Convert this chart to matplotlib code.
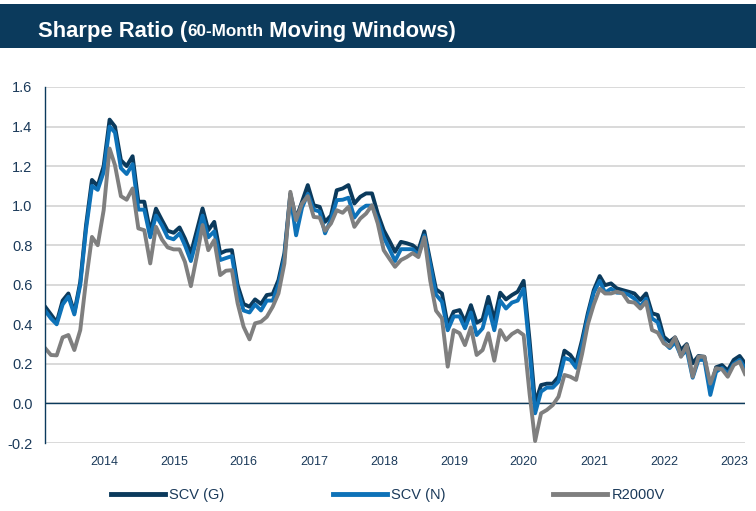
import numpy as np
import pandas as pd
import matplotlib
matplotlib.use("Agg")
import matplotlib.pyplot as plt
import matplotlib.dates as mdates
from matplotlib.patches import Rectangle

# monthly 60-month rolling Sharpe ratios, Feb 2013 .. Feb 2023
dates = pd.date_range("2013-02-28", periods=121, freq="ME")

scv_g = [0.49, 0.45, 0.41, 0.52, 0.556, 0.46, 0.615, 0.90, 1.13, 1.10,
         1.20, 1.435, 1.40, 1.23, 1.20, 1.25, 1.02, 1.02, 0.868, 0.985,
         0.927, 0.873, 0.863, 0.89, 0.834, 0.759, 0.87, 0.986, 0.876, 0.918,
         0.759, 0.772, 0.775, 0.598, 0.503, 0.489, 0.526, 0.503, 0.548, 0.553,
         0.624, 0.759, 1.06, 0.935, 1.02, 1.104, 1.002, 0.994, 0.918, 0.95,
         1.078, 1.087, 1.104, 1.011, 1.045, 1.062, 1.062, 0.96, 0.876, 0.82,
         0.767, 0.817, 0.81, 0.80, 0.775, 0.87, 0.72, 0.577, 0.556, 0.396,
         0.464, 0.472, 0.413, 0.497, 0.408, 0.425, 0.539, 0.422, 0.56, 0.526,
         0.548, 0.565, 0.62, 0.32, 0.0, 0.093, 0.10, 0.10, 0.135, 0.267,
         0.245, 0.203, 0.321, 0.456, 0.573, 0.644, 0.598, 0.607, 0.582, 0.573,
         0.565, 0.556, 0.523, 0.556, 0.456, 0.447, 0.337, 0.312, 0.334, 0.27,
         0.30, 0.203, 0.24, 0.236, 0.068, 0.183, 0.194, 0.166, 0.22, 0.24,
         0.203]

scv_n = [0.47, 0.43, 0.40, 0.50, 0.54, 0.45, 0.60, 0.88, 1.10, 1.08,
         1.17, 1.40, 1.37, 1.19, 1.16, 1.21, 0.98, 0.98, 0.84, 0.95,
         0.90, 0.84, 0.83, 0.86, 0.80, 0.72, 0.83, 0.95, 0.84, 0.87,
         0.725, 0.735, 0.745, 0.57, 0.47, 0.46, 0.50, 0.47, 0.52, 0.52,
         0.60, 0.74, 1.05, 0.85, 0.99, 1.06, 0.98, 0.97, 0.86, 0.93,
         1.028, 1.03, 1.04, 0.94, 0.98, 1.00, 1.00, 0.93, 0.84, 0.78,
         0.72, 0.78, 0.78, 0.78, 0.75, 0.85, 0.70, 0.55, 0.514, 0.37,
         0.44, 0.44, 0.38, 0.46, 0.346, 0.38, 0.49, 0.37, 0.52, 0.48,
         0.51, 0.52, 0.58, 0.27, -0.05, 0.06, 0.08, 0.08, 0.11, 0.23,
         0.22, 0.18, 0.30, 0.44, 0.56, 0.62, 0.56, 0.58, 0.56, 0.56,
         0.55, 0.53, 0.49, 0.53, 0.43, 0.41, 0.31, 0.28, 0.31, 0.24,
         0.27, 0.13, 0.22, 0.22, 0.043, 0.16, 0.18, 0.15, 0.20, 0.22,
         0.18]

r2000v = [0.28, 0.245, 0.243, 0.334, 0.346, 0.27, 0.371, 0.62, 0.842, 0.80,
          0.977, 1.289, 1.205, 1.048, 1.03, 1.087, 0.885, 0.876, 0.708, 0.893,
          0.829, 0.789, 0.779, 0.779, 0.716, 0.593, 0.74, 0.902, 0.775, 0.826,
          0.649, 0.671, 0.674, 0.506, 0.388, 0.324, 0.405, 0.413, 0.438, 0.489,
          0.556, 0.708, 1.07, 0.927, 1.011, 1.048, 0.943, 0.94, 0.873, 0.91,
          0.977, 0.964, 0.994, 0.893, 0.935, 0.96, 1.002, 0.91, 0.775, 0.73,
          0.691, 0.725, 0.74, 0.76, 0.74, 0.84, 0.62, 0.469, 0.43, 0.186,
          0.371, 0.355, 0.295, 0.385, 0.245, 0.27, 0.355, 0.216, 0.371, 0.321,
          0.351, 0.368, 0.346, 0.05, -0.19, -0.05, -0.033, -0.008, 0.034, 0.144,
          0.135, 0.119, 0.25, 0.40, 0.50, 0.58, 0.556, 0.556, 0.565, 0.556,
          0.514, 0.51, 0.48, 0.514, 0.371, 0.358, 0.304, 0.287, 0.334, 0.236,
          0.295, 0.135, 0.236, 0.236, 0.10, 0.178, 0.173, 0.135, 0.194, 0.211,
          0.149]

series_names = ["SCV (G)", "SCV (N)", "R2000V"]
navy = "#0B3A5C"
colors = [navy, "#0E72B8", "#7F7F7F"]
text_col = "#1B3A5A"

plt.rcParams["font.family"] = ["Liberation Sans", "DejaVu Sans"]

fig = plt.figure(figsize=(7.56, 5.11), dpi=100)

# title banner
fig.patches.append(Rectangle((0, 1 - 48 / 511), 1, 44 / 511, transform=fig.transFigure,
                             facecolor=navy, edgecolor="none", zorder=0))
title_parts = [("Sharpe Ratio (", 15.8), ("60-Month", 12.3), (" Moving Windows)", 15.8)]
renderer = fig.canvas.get_renderer()
x0 = 38 / 756
for txt, size in title_parts:
    t = fig.text(x0, 1 - 31 / 511, txt, color="white", fontsize=size, fontweight="bold",
                 va="center", ha="left")
    bb = t.get_window_extent(renderer=renderer)
    x0 += bb.width / fig.bbox.width

ax = fig.add_axes([45 / 756, 1 - 443 / 511, 700 / 756, 356 / 511])
for vals, name, c in zip([scv_g, scv_n, r2000v], series_names, colors):
    ax.plot(dates, vals, color=c, lw=2.8, label=name, solid_joinstyle="round")

ax.set_ylim(-0.2, 1.6)
ax.set_yticks(np.arange(-0.2, 1.61, 0.2))
ax.yaxis.set_major_formatter(plt.FuncFormatter(lambda v, p: f"{v:.1f}"))
ax.set_xlim(dates[0], dates[-1])
ax.xaxis.set_major_locator(mdates.YearLocator())
ax.xaxis.set_major_formatter(mdates.DateFormatter("%Y"))

ax.yaxis.grid(True, color="#D9D9D9", lw=1.4)
ax.set_axisbelow(True)
ax.axhline(0, color=navy, lw=1.0, zorder=1)
for s in ["top", "right", "bottom"]:
    ax.spines[s].set_visible(False)
ax.spines["left"].set_color(navy)
ax.spines["left"].set_linewidth(1.0)
ax.tick_params(axis="y", length=0, pad=9, labelsize=10.5, labelcolor=text_col)
ax.tick_params(axis="x", length=0, pad=9, labelsize=9, labelcolor=text_col)

leg = fig.legend(loc="center", bbox_to_anchor=(388 / 756, 1 - 495 / 511), ncol=3, frameon=False,
                 fontsize=10.5, labelcolor=text_col, handlelength=3.7, handletextpad=0.3,
                 columnspacing=7.4)
for h in leg.get_lines():
    h.set_linewidth(3.5)

fig.savefig("out.png", dpi=100)
